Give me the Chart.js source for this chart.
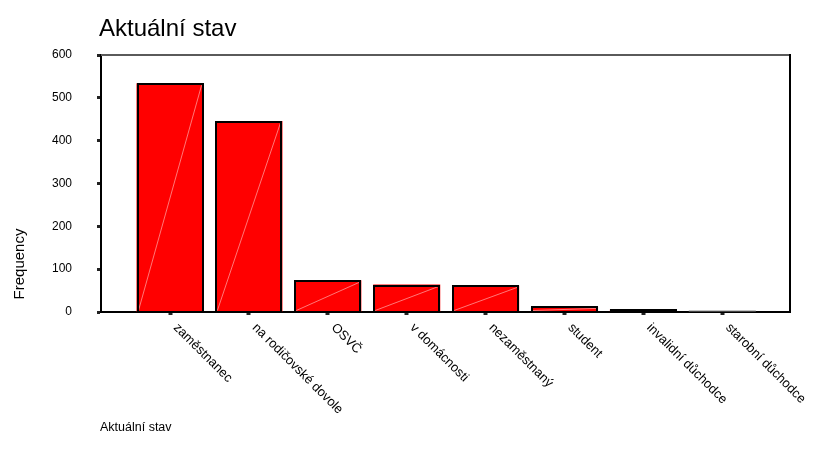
<!DOCTYPE html>
<html>
<head>
<meta charset="utf-8">
<script src="https://cdn.jsdelivr.net/npm/chart.js@4/dist/chart.umd.min.js"></script>
<style>
  html, body { margin: 0; padding: 0; background: #fff; }
  #wrap { width: 813px; height: 460px; }
</style>
</head>
<body>
<div id="wrap"><canvas id="chart" width="813" height="460"></canvas></div>
<script>
const titleText = "Aktuální stav";
const yAxisTitle = "Frequency";
const xAxisTitle = "Aktuální stav";
const categories = [
  "zaměstnanec",
  "na rodičovské dovole",
  "OSVČ",
  "v domácnosti",
  "nezaměstnaný",
  "student",
  "invalidní důchodce",
  "starobní důchodce"
];
const frequencies = [534, 446, 74, 64, 62, 13, 6, 0];
const yTicks = [0, 100, 200, 300, 400, 500, 600];

const FONT = "Arial, 'Liberation Sans', sans-serif";

const decorPlugin = {
  id: "decor",
  afterDatasetsDraw(chart) {
    const ctx = chart.ctx;
    const area = chart.chartArea;
    const meta = chart.getDatasetMeta(0);
    ctx.save();
    // faint diagonal inside each bar
    ctx.strokeStyle = "rgba(255,190,190,0.9)";
    ctx.lineWidth = 0.7;
    meta.data.forEach((bar) => {
      const h = bar.base - bar.y;
      if (h < 3) return;
      ctx.beginPath();
      ctx.moveTo(bar.x - bar.width / 2 + 2, bar.base - 1);
      ctx.lineTo(bar.x + bar.width / 2 - 2, bar.y + 2);
      ctx.stroke();
    });
    // crisp black outline for bars
    ctx.strokeStyle = "#000";
    ctx.lineWidth = 2;
    meta.data.forEach((bar, i) => {
      if (frequencies[i] === 0) return;
      const l = Math.round(bar.x - bar.width / 2) + 1;
      const r = Math.round(bar.x + bar.width / 2) - 1;
      const t = Math.round(bar.y) + 1;
      const b = Math.round(bar.base);
      ctx.strokeRect(l, t, r - l, b - t);
    });
    // zero-height bar outline
    ctx.strokeStyle = "#888";
    ctx.lineWidth = 1;
    meta.data.forEach((bar, i) => {
      if (frequencies[i] === 0) {
        ctx.beginPath();
        ctx.moveTo(bar.x - bar.width / 2, bar.base - 1);
        ctx.lineTo(bar.x + bar.width / 2, bar.base - 1);
        ctx.stroke();
      }
    });
    // frame: top gray, right black
    ctx.lineWidth = 2;
    ctx.strokeStyle = "#5a5a5a";
    ctx.beginPath();
    ctx.moveTo(area.left, area.top);
    ctx.lineTo(area.right, area.top);
    ctx.stroke();
    ctx.strokeStyle = "#000";
    ctx.beginPath();
    ctx.moveTo(area.right, area.top - 1);
    ctx.lineTo(area.right, area.bottom);
    ctx.stroke();
    ctx.restore();
  },
  afterDraw(chart) {
    const ctx = chart.ctx;
    const area = chart.chartArea;
    const xScale = chart.scales.x;
    ctx.save();
    ctx.fillStyle = "#000";
    // title
    ctx.font = "24px " + FONT;
    ctx.textAlign = "left";
    ctx.textBaseline = "alphabetic";
    ctx.fillText(titleText, 99, 36);
    // bottom caption
    ctx.font = "12.5px " + FONT;
    ctx.fillText(xAxisTitle, 100, 431);
    // y axis title
    ctx.save();
    ctx.translate(24, 264);
    ctx.rotate(-Math.PI / 2);
    ctx.font = "15px " + FONT;
    ctx.textAlign = "center";
    ctx.fillText(yAxisTitle, 0, 0);
    ctx.restore();
    // rotated category labels
    ctx.font = "13px " + FONT;
    ctx.textAlign = "left";
    ctx.textBaseline = "top";
    categories.forEach((label, i) => {
      const x = xScale.getPixelForValue(i);
      ctx.save();
      ctx.translate(x + 10, area.bottom + 9);
      ctx.rotate(Math.PI / 4);
      ctx.fillText(label, 0, 0);
      ctx.restore();
    });
    ctx.restore();
  }
};

new Chart(document.getElementById("chart"), {
  type: "bar",
  data: {
    datasets: [
      {
        label: yAxisTitle,
        data: frequencies.map((v, i) => ({ x: i, y: v })),
        backgroundColor: "#ff0000",
        borderColor: "#000",
        borderWidth: 0,
        barPercentage: 0.85,
        categoryPercentage: 1
      }
    ]
  },
  options: {
    responsive: false,
    animation: false,
    layout: { padding: { top: 55, right: 23, bottom: 0, left: 0 } },
    plugins: {
      legend: { display: false },
      tooltip: { enabled: false }
    },
    scales: {
      x: {
        type: "linear",
        offset: false,
        min: -0.875,
        max: 7.858,
        grid: {
          offset: false,
          drawOnChartArea: false,
          drawTicks: true,
          tickLength: 3,
          tickWidth: 4,
          tickColor: "#222"
        },
        border: { display: true, color: "#000", width: 2 },
        ticks: { display: false, stepSize: 1, includeBounds: false },
        afterFit(scale) { scale.height = 148; }
      },
      y: {
        min: 0,
        max: 600,
        afterBuildTicks(scale) {
          scale.ticks = yTicks.map((v) => ({ value: v }));
        },
        grid: {
          drawOnChartArea: false,
          drawTicks: true,
          tickLength: 4,
          tickWidth: 3,
          tickColor: "#222"
        },
        border: { display: true, color: "#000", width: 2 },
        ticks: {
          color: "#000",
          padding: 25,
          font: { size: 12, family: FONT }
        },
        afterFit(scale) { scale.width = 101; }
      }
    }
  },
  plugins: [decorPlugin]
});
</script>
</body>
</html>
